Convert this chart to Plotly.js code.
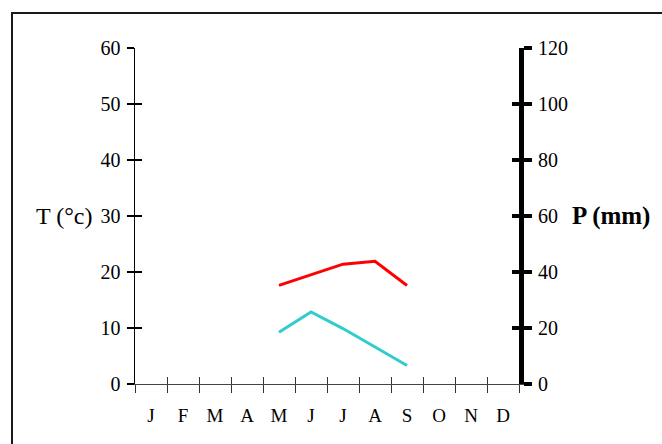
<!DOCTYPE html>
<html>
<head>
<meta charset="utf-8">
<script src="https://cdn.plot.ly/plotly-3.0.1.min.js"></script>
<style>
html,body{margin:0;padding:0;background:#fff;overflow:hidden;}
#wrap{position:relative;width:662px;height:444px;overflow:hidden;}
#chart{position:absolute;left:0;top:0;width:662px;height:444px;}
#frame{position:absolute;left:11px;top:12px;width:700px;height:500px;border:2px solid #1a1a1a;pointer-events:none;}
</style>
</head>
<body>
<div id="wrap"><div id="chart"></div><div id="frame"></div></div>
<script>
const months = ["J","F","M","A","M","J","J","A","S","O","N","D"];
const monthPos = [0.5,1.5,2.5,3.5,4.5,5.5,6.5,7.5,8.5,9.5,10.5,11.5];
const monthBounds = [0,1,2,3,4,5,6,7,8,9,10,11,12];
const tempX = [4.5,5.5,6.5,7.5,8.5];
const tempValues = [17.6,19.5,21.4,21.9,17.6];
const precipX = [4.5,5.5,6.5,7.5,8.5];
const precipValues = [18.5,25.7,19.8,13.1,6.6];
const tTicks = [0,10,20,30,40,50,60];
const pTicks = [0,20,40,60,80,100,120];

const serif = "'Liberation Serif', 'Times New Roman', serif";

const traces = [
  {x: tempX, y: tempValues, type:'scatter', mode:'lines', line:{color:'#ff0000', width:3}, xaxis:'x', yaxis:'y', hoverinfo:'skip'},
  {x: precipX, y: precipValues, type:'scatter', mode:'lines', line:{color:'#33cccc', width:3}, xaxis:'x', yaxis:'y2', hoverinfo:'skip'},
  {x: [null], y: [null], type:'scatter', mode:'lines', xaxis:'x2', yaxis:'y3', hoverinfo:'skip'},
  {x: [null], y: [null], type:'scatter', mode:'lines', xaxis:'x3', yaxis:'y4', hoverinfo:'skip'}
];

const layout = {
  width:662, height:444,
  margin:{l:135, r:143, t:48, b:60},
  paper_bgcolor:'rgba(0,0,0,0)', plot_bgcolor:'rgba(0,0,0,0)',
  showlegend:false,
  font:{family:serif, color:'#000'},
  xaxis:{range:[0,12], tickvals:monthPos, ticktext:months, ticks:'outside', ticklen:14, tickcolor:'rgba(0,0,0,0)',
         showline:true, linecolor:'#444', linewidth:1, showgrid:false, zeroline:false, fixedrange:true,
         tickfont:{family:serif, size:19, color:'#000'}},
  xaxis2:{overlaying:'x', anchor:'y', range:[0,12], tickvals:monthBounds, ticks:'outside', ticklen:8, tickwidth:1, tickcolor:'#333',
          showticklabels:false, showline:false, showgrid:false, zeroline:false},
  xaxis3:{overlaying:'x', anchor:'y', range:[0,12], tickvals:monthBounds, ticks:'inside', ticklen:7, tickwidth:1, tickcolor:'#333',
          showticklabels:false, showline:false, showgrid:false, zeroline:false},
  yaxis:{range:[0,60], tickvals:tTicks, ticks:'outside', ticklen:7, tickwidth:1.5, tickcolor:'#000', ticklabelstandoff:2,
         showline:true, linecolor:'#000', linewidth:1.5, showgrid:false, zeroline:false, fixedrange:true,
         tickfont:{family:serif, size:20, color:'#000'}},
  yaxis3:{overlaying:'y', anchor:'x', side:'left', range:[0,60], tickvals:tTicks, ticks:'inside', ticklen:7, tickwidth:1.5, tickcolor:'#000',
          showticklabels:false, showline:false, showgrid:false, zeroline:false},
  yaxis2:{overlaying:'y', anchor:'x', side:'right', range:[0,120], tickvals:pTicks, ticks:'outside', ticklen:8, tickwidth:4, tickcolor:'#000', ticklabelstandoff:2,
          showline:true, linecolor:'#000', linewidth:5, showgrid:false, zeroline:false,
          tickfont:{family:serif, size:20, color:'#000'}},
  yaxis4:{overlaying:'y', anchor:'x', side:'right', range:[0,120], tickvals:pTicks, ticks:'inside', ticklen:7, tickwidth:4, tickcolor:'#000',
          showticklabels:false, showline:false, showgrid:false, zeroline:false},
  annotations:[
    {text:'T (°c)', xref:'paper', yref:'y', x:-0.108, y:30, xanchor:'right', yanchor:'middle', showarrow:false,
     font:{family:serif, size:24, color:'#000'}},
    {text:'<b>P (mm)</b>', xref:'paper', yref:'y', x:1.1327, y:30, xanchor:'left', yanchor:'middle', showarrow:false,
     font:{family:serif, size:25, color:'#000'}}
  ]
};

Plotly.newPlot('chart', traces, layout, {staticPlot:true, displayModeBar:false});
</script>
</body>
</html>
